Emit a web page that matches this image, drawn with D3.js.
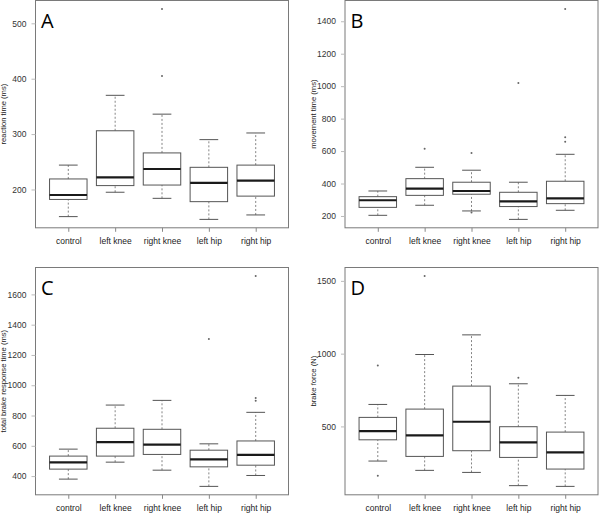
<!DOCTYPE html>
<html>
<head>
<meta charset="utf-8">
<script src="https://cdn.jsdelivr.net/npm/d3@7"></script>
<style>
  body { margin: 0; background: #fff; }
  text { font-family: "Liberation Sans", Arial, sans-serif; }
</style>
</head>
<body>
<script>
// groups on the x axis
var groups = ["control", "left knee", "right knee", "left hip", "right hip"];

// box stats per group: [lower whisker, Q1, median, Q3, upper whisker]
var reactionStats = [[151, 182, 190, 219, 244], [195, 207, 222, 306, 370], [184, 208, 237, 266, 336], [146, 178, 212, 240, 290], [154, 188, 216, 244, 302]];
var reactionOutliers = [[], [], [405, 526], [], []];
var reactionTicks = [200, 300, 400, 500];

var movementStats = [[204, 253, 297, 319, 354], [266, 327, 369, 430, 500], [231, 334, 354, 408, 482], [179, 258, 290, 346, 408], [235, 276, 309, 414, 580]];
var movementOutliers = [[], [615], [221, 588], [1020], [658, 685, 1476]];
var movementTicks = [200, 400, 600, 800, 1000, 1200, 1400];

var totalStats = [[380, 446, 490, 532, 578], [492, 532, 624, 716, 869], [439, 543, 608, 709, 900], [332, 461, 510, 571, 613], [404, 472, 540, 632, 821]];
var totalOutliers = [[], [], [], [1306], [898, 915, 1722]];
var totalTicks = [400, 600, 800, 1000, 1200, 1400, 1600];

var forceStats = [[262, 408, 468, 562, 651], [198, 294, 438, 619, 994], [184, 333, 532, 777, 1129], [93, 287, 390, 498, 793], [88, 207, 322, 461, 713]];
var forceOutliers = [[161, 919], [1534], [], [834], []];
var forceTicks = [500, 1000, 1500];

var letters = ["A", "B", "C", "D"];
var titles = ["reaction time (ms)", "movement time (ms)", "total brake response time (ms)", "brake force (N)"];

var width = 600, height = 515;
var svg = d3.select("body").append("svg")
    .attr("width", width)
    .attr("height", height);

var panels = [
    {stats: reactionStats, outliers: reactionOutliers, ticks: reactionTicks, x0: 35.5, y0: 0.5},
    {stats: movementStats, outliers: movementOutliers, ticks: movementTicks, x0: 345, y0: 0.5},
    {stats: totalStats, outliers: totalOutliers, ticks: totalTicks, x0: 35.5, y0: 267.5},
    {stats: forceStats, outliers: forceOutliers, ticks: forceTicks, x0: 345, y0: 267.5}
];
var pw = 253, ph = 227.3;

panels.forEach(function (p, k) {
    var g = svg.append("g")
        .attr("transform", "translate(" + p.x0 + "," + p.y0 + ")");

    // R style range: data extent +- 4%
    var all = [];
    p.stats.forEach(function (s, i) { all = all.concat(s, p.outliers[i]); });
    var lo = d3.min(all), hi = d3.max(all), pad = (hi - lo) * 0.04;

    var y = d3.scaleLinear().domain([lo - pad, hi + pad]).range([ph, 0]);
    var x = d3.scaleLinear().domain([0.3, groups.length + 0.7]).range([0, pw]);
    var bw = (x(1.4) - x(1)); // half box width (boxwex 0.8)

    // frame
    g.append("rect")
        .attr("width", pw).attr("height", ph)
        .attr("fill", "none").attr("stroke", "#7a7a7a").attr("stroke-width", 1);

    // y axis
    var yAxis = g.append("g")
        .call(d3.axisLeft(y).tickValues(p.ticks).tickSize(4).tickPadding(5).tickFormat(d3.format("d")));
    yAxis.select(".domain").remove();
    yAxis.selectAll("line").attr("stroke", "#bbb");
    yAxis.selectAll("text").attr("fill", "#333").style("font-size", "8.5px");

    // x axis
    var xAxis = g.append("g")
        .attr("transform", "translate(0," + ph + ")")
        .call(d3.axisBottom(x).tickValues(d3.range(1, groups.length + 1)).tickSize(4).tickPadding(6)
            .tickFormat(function (d) { return groups[d - 1]; }));
    xAxis.select(".domain").remove();
    xAxis.selectAll("line").attr("stroke", "#888");
    xAxis.selectAll("text").attr("fill", "#222").style("font-size", "8.5px");

    // y title
    g.append("text")
        .attr("transform", "translate(-29.5," + (ph / 2) + ") rotate(-90)")
        .attr("text-anchor", "middle")
        .style("font-size", "7.6px")
        .attr("fill", "#222")
        .text(titles[k]);

    // boxes
    var boxes = g.selectAll(".box")
        .data(p.stats)
        .enter()
        .append("g")
        .attr("class", "box");

    // whiskers
    boxes.append("line")
        .attr("x1", function (d, i) { return x(i + 1); })
        .attr("x2", function (d, i) { return x(i + 1); })
        .attr("y1", function (d) { return y(d[0]); })
        .attr("y2", function (d) { return y(d[1]); })
        .attr("stroke", "#666").attr("stroke-width", 0.8).attr("stroke-dasharray", "2,2");
    boxes.append("line")
        .attr("x1", function (d, i) { return x(i + 1); })
        .attr("x2", function (d, i) { return x(i + 1); })
        .attr("y1", function (d) { return y(d[3]); })
        .attr("y2", function (d) { return y(d[4]); })
        .attr("stroke", "#666").attr("stroke-width", 0.8).attr("stroke-dasharray", "2,2");

    // staples
    [0, 4].forEach(function (j) {
        boxes.append("line")
            .attr("x1", function (d, i) { return x(i + 1) - bw / 2; })
            .attr("x2", function (d, i) { return x(i + 1) + bw / 2; })
            .attr("y1", function (d) { return y(d[j]); })
            .attr("y2", function (d) { return y(d[j]); })
            .attr("stroke", "#555").attr("stroke-width", 1);
    });

    // box
    boxes.append("rect")
        .attr("x", function (d, i) { return x(i + 1) - bw; })
        .attr("y", function (d) { return y(d[3]); })
        .attr("width", bw * 2)
        .attr("height", function (d) { return y(d[1]) - y(d[3]); })
        .attr("fill", "#fff").attr("stroke", "#555").attr("stroke-width", 1);

    // median
    boxes.append("line")
        .attr("x1", function (d, i) { return x(i + 1) - bw; })
        .attr("x2", function (d, i) { return x(i + 1) + bw; })
        .attr("y1", function (d) { return y(d[2]); })
        .attr("y2", function (d) { return y(d[2]); })
        .attr("stroke", "#1a1a1a").attr("stroke-width", 2.2);

    // outliers
    p.outliers.forEach(function (arr, i) {
        g.selectAll(".out" + i)
            .data(arr)
            .enter()
            .append("circle")
            .attr("cx", x(i + 1))
            .attr("cy", function (d) { return y(d); })
            .attr("r", 1)
            .attr("fill", "#666");
    });

    // panel letter
    g.append("text")
        .attr("x", 5.5)
        .attr("y", 27)
        .style("font-size", "20px")
        .style("font-family", "'Open Sans', sans-serif")
        .attr("fill", "#000")
        .text(letters[k]);
});
</script>
</body>
</html>
